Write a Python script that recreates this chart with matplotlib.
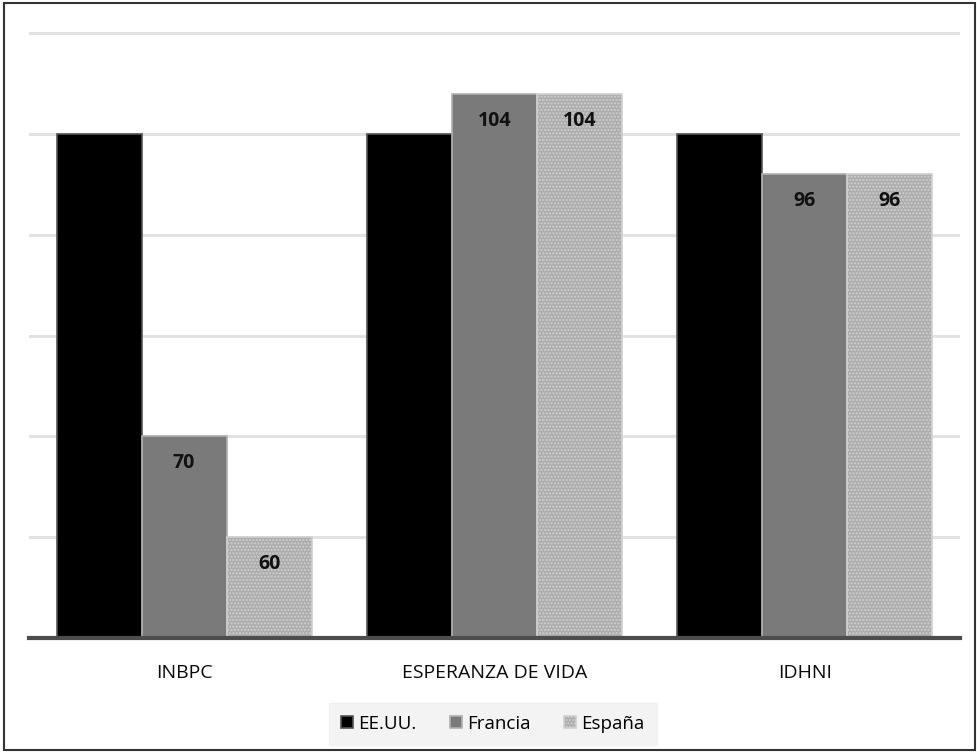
import matplotlib.pyplot as plt
import numpy as np
from matplotlib.patches import Rectangle

categories = ["INBPC", "ESPERANZA DE VIDA", "IDHNI"]
series_names = ["EE.UU.", "Francia", "España"]
eeuu = [100, 100, 100]
francia = [70, 104, 96]
espana = [60, 104, 96]
show_labels = [False, True, True]

plt.rcParams['font.family'] = ['Open Sans', 'DejaVu Sans']

fig = plt.figure(figsize=(9.77, 7.52), dpi=100)
ax = fig.add_axes([29/977, (752-638)/752, (960-29)/977, (638-30)/752])

x = np.arange(len(categories))
w = 0.274
colors = ['#000000', '#7a7a7a', '#acacac']
edges = ['#555555', '#b0b0b0', '#d0d0d0']
all_vals = [eeuu, francia, espana]
bars_list = []
for i, (vals, name) in enumerate(zip(all_vals, series_names)):
    kw = {}
    if i == 2:
        kw['hatch'] = '.....'
    b = ax.bar(x + (i - 1) * w, vals, width=w, bottom=0, color=colors[i],
               edgecolor=edges[i], linewidth=1.2, label=name, zorder=3, **kw)
    bars_list.append(b)
    if show_labels[i]:
        for xi, v in zip(x, vals):
            ax.annotate(f"{v}", (xi + (i - 1) * w, v), xytext=(0, -27),
                        textcoords='offset pixels',
                        ha='center', va='center', fontsize=14, fontweight='bold',
                        color='#111111', zorder=5)

ax.set_ylim(50, 110.3)
ax.set_xlim(-0.5, 2.5)
ax.set_yticks([60, 70, 80, 90, 100, 110])
ax.yaxis.grid(True, color='#e2e2e2', linewidth=2.2, zorder=0)
ax.tick_params(axis='y', left=False, labelleft=False)
ax.tick_params(axis='x', bottom=False, pad=15)
ax.set_xticks(x)
ax.set_xticklabels(categories, fontsize=14, color='#0a0a0a')
for s in ['top', 'right', 'left']:
    ax.spines[s].set_visible(False)
ax.spines['bottom'].set_color('#4d4d4d')
ax.spines['bottom'].set_linewidth(3)
ax.spines['bottom'].set_zorder(6)

leg = fig.legend(handles=bars_list, labels=series_names, loc='center',
                 bbox_to_anchor=(493/977, (752-724)/752), ncol=3, frameon=True,
                 fontsize=13.5, handlelength=0.6, handleheight=0.6,
                 handletextpad=0.3, columnspacing=1.8, borderpad=0.65)
leg.get_frame().set_facecolor('#f0f0f0')
leg.get_frame().set_edgecolor('#f0f0f0')
leg.get_frame().set_boxstyle('square', pad=0)

fig.patches.append(Rectangle((4/977, 2/752), 971/977, 747/752, transform=fig.transFigure,
                             fill=False, edgecolor='#333333', linewidth=1.5))

fig.savefig('out.png', dpi=100)
